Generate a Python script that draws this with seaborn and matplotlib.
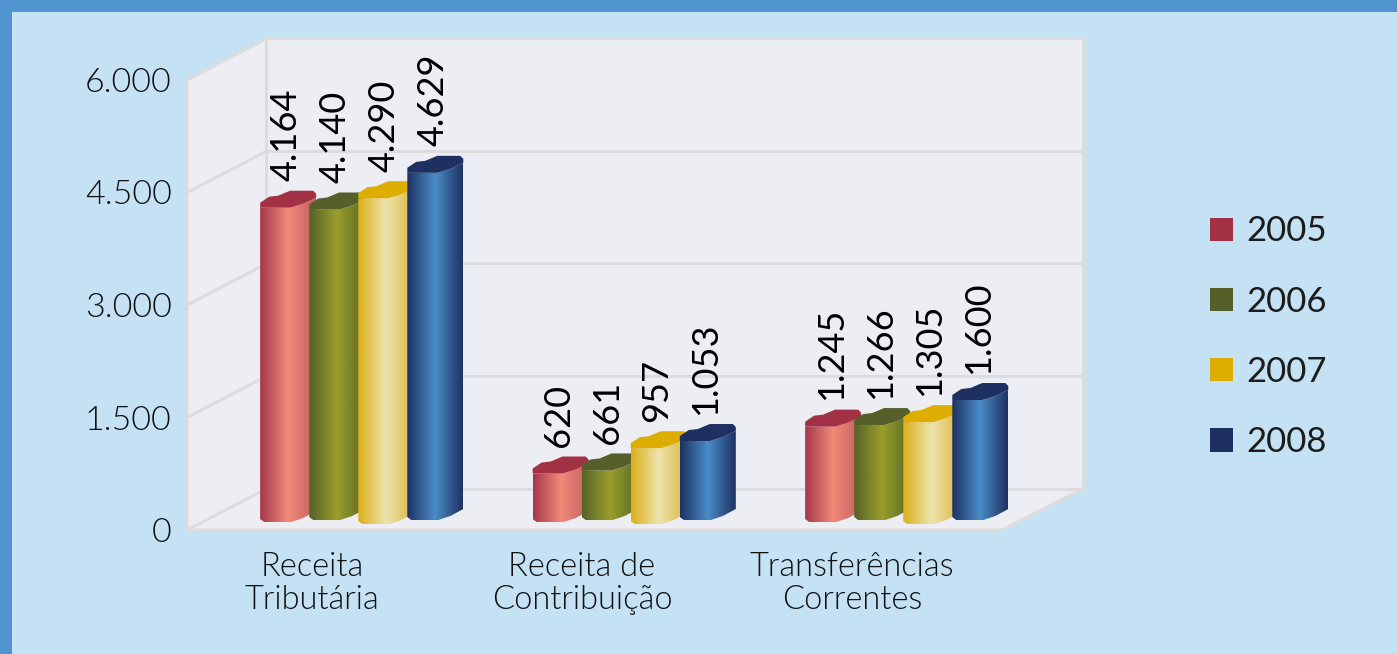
import numpy as np
import pandas as pd
import seaborn as sns
from matplotlib import pyplot as plt
from matplotlib.colors import LinearSegmentedColormap
from matplotlib.patches import Patch, Polygon, Rectangle

categories = ["Receita\nTributária", "Receita de\nContribuição", "Transferências\nCorrentes"]
years = ["2005", "2006", "2007", "2008"]
values_2005 = [4164, 620, 1245]
values_2006 = [4140, 661, 1266]
values_2007 = [4290, 957, 1305]
values_2008 = [4629, 1053, 1600]
y_ticks = [0, 1500, 3000, 4500, 6000]
y_tick_labels = ["0", "1.500", "3.000", "4.500", "6.000"]

W, H = 1397, 654
BG = "#C5E2F5"
EDGE = "#4F93CF"
WALL = "#ECEEF3"
LINE = "#DCDCDC"

caps = ["#A23145", "#565F2A", "#DDAE00", "#1E2F62"]
shades = [
    ["#A5384A", "#F28A7A", "#C4605F"],
    ["#56622A", "#9A9E2A", "#5E6A2A"],
    ["#DDB01A", "#EDE3AE", "#DDB840"],
    ["#1E3264", "#4A8DC8", "#1F3264"],
]
base_drop = [2, 0, 4, 0]

df = pd.DataFrame({
    "cat": categories * 4,
    "year": np.repeat(years, 3),
    "value": values_2005 + values_2006 + values_2007 + values_2008,
})

sns.set_theme(style="white")
plt.rcParams["font.family"] = ["Lato", "DejaVu Sans"]


def px_axes(x0, x1, y_top, y_bottom):
    return fig.add_axes([x0 / W, 1 - y_bottom / H, (x1 - x0) / W, (y_bottom - y_top) / H])


fig = plt.figure(figsize=(W / 100, H / 100), dpi=100, facecolor=BG)

# backdrop in pixels: page border, walls and floor
bg = fig.add_axes([0, 0, 1, 1])
bg.set_xlim(0, W)
bg.set_ylim(H, 0)
bg.axis("off")
bg.add_patch(Rectangle((0, 0), W, 12, color=EDGE, lw=0))
bg.add_patch(Rectangle((0, 0), 12, H, color=EDGE, lw=0))
bg.add_patch(Polygon([(187, 80), (266, 38), (1083, 38), (1083, 489), (1002, 530), (187, 530)],
                     facecolor=WALL, edgecolor="none"))
bg.plot([266, 1083, 1083], [38, 38, 489], color=LINE, lw=2.2)
bg.plot([266, 266], [38, 489], color=LINE, lw=2.2)
bg.plot([266, 1083], [489, 489], color=LINE, lw=2.2)
bg.plot([187, 187, 1002, 1083], [80, 530, 530, 489], color=LINE, lw=2.2)
for t in y_ticks:
    y = 530 - t * 0.075
    bg.plot([187, 266], [y, y - 41], color=LINE, lw=2.2)

# back wall grid
back = px_axes(266, 1083, 38, 489)
back.set_ylim(0, 6000)
back.set_yticks(y_ticks)
back.set_xticks([])
back.patch.set_alpha(0)
back.grid(axis="y", color=LINE, lw=2.2)
back.tick_params(labelleft=False, left=False)
sns.despine(ax=back, left=True, bottom=True)

# front plane carries the tick labels
front = px_axes(187, 1002, 80, 530)
front.patch.set_alpha(0)
front.set_xlim(-0.463, 2.556)
front.set_ylim(0, 6000)
front.set_yticks(y_ticks, y_tick_labels)
front.set_xticks(range(3), categories)
front.tick_params(axis="y", labelsize=24.5, pad=11, length=0, labelcolor="#111111")
front.tick_params(axis="x", labelsize=23.5, pad=16, length=0, labelcolor="#111111")
for lab in front.get_xticklabels():
    lab.set_linespacing(1.12)
    lab.set_fontweight(300)
for lab in front.get_yticklabels():
    lab.set_fontweight(300)
sns.despine(ax=front, left=True, bottom=True)

# bars; the axes reach a little under zero so the rounded feet are not cut
PX = 3 / 817.5
PY = 6000 / 450
ax = px_axes(222, 1039.5, 70, 526)
ax.patch.set_alpha(0)
sns.barplot(data=df, x="cat", y="value", hue="year", order=categories, hue_order=years,
            palette=caps, width=0.72, gap=0, dodge=True, legend=False, ax=ax)
ax.set_xticks([])
ax.set_yticks([])
ax.set_xlabel("")
ax.set_ylabel("")
sns.despine(ax=ax, left=True, bottom=True)

z = 5
for i, container in enumerate(ax.containers):
    cmap = LinearSegmentedColormap.from_list(years[i], shades[i])
    for rect in container:
        x0 = rect.get_x()
        top = rect.get_height()
        base = -base_drop[i] * PY
        rect.set_alpha(0)

        def pt(dx, dy, ref):
            return (x0 + dx * PX, ref + dy * PY)

        body = [pt(0, 0, top), pt(30, 0, top), pt(43, 4, top), pt(56, 10, top),
                pt(56, 11, base), pt(43, 4, base), pt(31, 0, base), pt(4, 0, base), pt(0, 3, base)]
        clip = Polygon(body, transform=ax.transData, facecolor="none", edgecolor="none")
        ax.add_patch(clip)
        grad = np.linspace(0, 1, 64).reshape(1, -1)
        im = ax.imshow(grad, cmap=cmap, aspect="auto", zorder=z,
                       extent=(x0, x0 + 56 * PX, base, top + 10 * PY))
        im.set_clip_path(clip)
        cap = [pt(0, 0, top), pt(0, 5, top), pt(9, 11, top), pt(18, 12, top), pt(30, 17, top),
               pt(53, 17, top), pt(56, 14, top), pt(56, 10, top), pt(43, 4, top), pt(30, 0, top)]
        ax.add_patch(Polygon(cap, facecolor=caps[i], edgecolor="none", zorder=z + 0.5))
        ax.annotate(f"{top:,.0f}".replace(",", "."), (x0 + 26 * PX, top), xytext=(0, 19),
                    textcoords="offset points", rotation=90, ha="center", va="bottom",
                    fontsize=26, color="black", zorder=20)
        z += 1
ax.set_xlim(-0.5, 2.5)
ax.set_ylim(-6 * PY, 6000)

handles = [Patch(facecolor=c, edgecolor="none", label=y) for c, y in zip(caps, years)]
fig.legend(handles=handles, loc="upper left", bbox_to_anchor=(1200 / W, 1 - 205 / H), frameon=False,
           fontsize=25, handlelength=0.66, handleheight=0.66, handletextpad=0.38, labelspacing=1.1,
           labelcolor="#1c1c1c", borderpad=0.3, borderaxespad=0)

fig.savefig("out.png", dpi=100, facecolor=BG)
